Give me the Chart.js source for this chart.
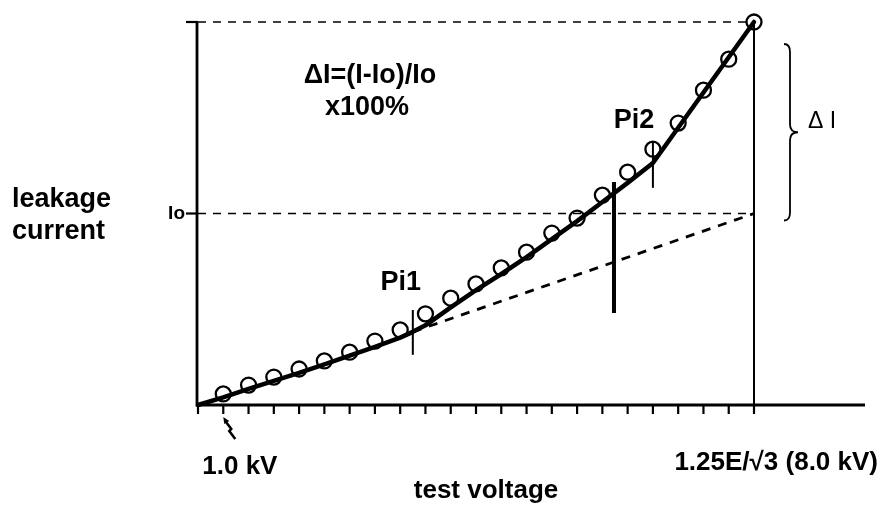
<!DOCTYPE html>
<html>
<head>
<meta charset="utf-8">
<script src="https://cdn.jsdelivr.net/npm/chart.js@4.4.0/dist/chart.umd.min.js"></script>
<style>
  html, body { margin: 0; background: #fff; }
  canvas { display: block; }
</style>
</head>
<body>
<canvas id="leakChart" width="883" height="506"></canvas>
<script>
// voltage steps on the x axis (1.0 kV at step 1, 8.0 kV at step 22)
const stepTicks = [0, 1, 2, 3, 4, 5, 6, 7, 8, 9, 10, 11, 12, 13, 14, 15, 16, 17, 18, 19, 20, 21, 22];

// measured leakage current (relative, I = 100)
const measuredSteps = [1, 2, 3, 4, 5, 6, 7, 8, 9, 10, 11, 12, 13, 14, 15, 16, 17, 18, 19, 20, 21, 22];
const measuredCurrent = [2.9, 5.2, 7.3, 9.4, 11.5, 13.8, 16.7, 19.6, 23.8, 27.9, 31.6, 35.8, 39.9, 44.9, 48.8, 54.8, 60.8, 66.8, 73.6, 82.2, 90.3, 100];

// fitted curve with the two inflection points Pi1 and Pi2
const fitSteps = [0, 1, 2, 3, 4, 5, 6, 7, 8, 8.5, 9, 10, 11, 12, 13, 14, 15, 16, 17, 18, 22];
const fitCurrent = [0, 2.0, 4.2, 6.3, 8.4, 10.6, 12.9, 15.2, 17.6, 19.1, 20.8, 25.5, 30.0, 34.2, 38.6, 43.3, 48.0, 53.0, 58.0, 63.2, 100];

// extrapolated trend after Pi1
const trendSteps = [8.5, 22];
const trendCurrent = [19.1, 50];

const levelI = 100;
const levelIo = 50;

// vertical markers: [step, from, to]
const pi1Mark = [8.5, 13.1, 24.8];
const splitMark = [16.46, 24.0, 58.2];
const pi2Mark = [18, 56.7, 68.9];

const FONT = '"Liberation Sans", Arial, sans-serif';

function pts(xs, ys) {
    return xs.map((x, i) => ({ x: x, y: ys[i] }));
}

function vline(m) {
    return [{ x: m[0], y: m[1] }, { x: m[0], y: m[2] }];
}

const lineStyle = { pointRadius: 0, fill: false, tension: 0, clip: false, borderColor: '#000' };

const datasets = [
    Object.assign({ data: [{ x: 0, y: levelI }, { x: 22, y: levelI }], borderWidth: 1.6, borderDash: [8, 7] }, lineStyle),
    Object.assign({ data: [{ x: 0, y: levelIo }, { x: 22, y: levelIo }], borderWidth: 1.6, borderDash: [8, 7] }, lineStyle),
    Object.assign({ data: pts(trendSteps, trendCurrent), borderWidth: 2.8, borderDash: [9, 8] }, lineStyle),
    Object.assign({ data: [{ x: 22, y: 0 }, { x: 22, y: levelI }], borderWidth: 2 }, lineStyle),
    Object.assign({ data: vline(pi1Mark), borderWidth: 2 }, lineStyle),
    Object.assign({ data: vline(splitMark), borderWidth: 4 }, lineStyle),
    Object.assign({ data: vline(pi2Mark), borderWidth: 2 }, lineStyle),
    Object.assign({ data: pts(fitSteps, fitCurrent), borderWidth: 4.5, borderCapStyle: 'round', borderJoinStyle: 'round' }, lineStyle),
    {
        data: pts(measuredSteps, measuredCurrent),
        showLine: false,
        pointRadius: 7.5,
        pointBorderWidth: 2.3,
        pointBorderColor: '#000',
        pointBackgroundColor: 'rgba(0,0,0,0)',
        clip: false
    }
];

// axes, ticks, brace and the texts
const sketchPlugin = {
    id: 'sketch',
    beforeDatasetsDraw(chart) {
        const c = chart.ctx;
        const xs = chart.scales.x, ys = chart.scales.y;
        const x0 = xs.getPixelForValue(0), y0 = ys.getPixelForValue(0);
        c.save();
        c.strokeStyle = '#000';
        c.lineWidth = 2.8;
        c.beginPath();
        c.moveTo(x0 - 1, ys.getPixelForValue(levelI));
        c.lineTo(x0 - 1, y0);
        c.lineTo(865, y0);
        c.stroke();
        c.lineWidth = 2.2;
        stepTicks.forEach(t => {
            const px = xs.getPixelForValue(t);
            c.beginPath();
            c.moveTo(px, y0);
            c.lineTo(px, y0 + 9);
            c.stroke();
        });
        // small ticks for I and Io
        [levelI, levelIo].forEach(v => {
            const py = ys.getPixelForValue(v);
            c.beginPath();
            c.moveTo(x0 - 12, py);
            c.lineTo(x0, py);
            c.stroke();
        });
        c.restore();
    },
    afterDraw(chart) {
        const c = chart.ctx;
        const xs = chart.scales.x, ys = chart.scales.y;
        const y0 = ys.getPixelForValue(0);
        c.save();
        c.fillStyle = '#000';
        c.strokeStyle = '#000';
        c.textBaseline = 'middle';

        c.font = 'bold 27px ' + FONT;
        c.textAlign = 'center';
        c.fillText('ΔI=(I-Io)/Io', 370, 76);
        c.fillText('x100%', 367, 108);
        c.fillText('Pi1', xs.getPixelForValue(pi1Mark[0]) - 12, 283);
        c.fillText('Pi2', xs.getPixelForValue(pi2Mark[0]) - 19, 121);

        c.textAlign = 'left';
        c.fillText('leakage', 12, 200);
        c.fillText('current', 12, 232);

        c.font = 'bold 26px ' + FONT;
        c.fillText('1.0 kV', xs.getPixelForValue(1) - 21, 467);
        c.textAlign = 'right';
        c.fillText('1.25E/√3 (8.0 kV)', 878, 463);
        c.textAlign = 'center';
        c.fillText('test voltage', 486, 491);

        c.font = 'bold 19px ' + FONT;
        c.textAlign = 'right';
        c.fillText('Io', xs.getPixelForValue(0) - 13, ys.getPixelForValue(levelIo));

        c.font = '23px ' + FONT;
        c.textAlign = 'left';
        c.fillText('Δ I', 808, 122);

        // brace spanning I .. Io
        const top = ys.getPixelForValue(levelI) + 22;
        const bot = ys.getPixelForValue(levelIo) + 7;
        const mid = (top + bot) / 2;
        const bx = 790;
        c.lineWidth = 1.8;
        c.beginPath();
        c.moveTo(bx - 6, top);
        c.quadraticCurveTo(bx, top, bx, top + 8);
        c.lineTo(bx, mid - 8);
        c.quadraticCurveTo(bx, mid, bx + 8, mid);
        c.quadraticCurveTo(bx, mid, bx, mid + 8);
        c.lineTo(bx, bot - 8);
        c.quadraticCurveTo(bx, bot, bx - 6, bot);
        c.stroke();

        // little arrow pointing at the 1.0 kV step
        const ax = xs.getPixelForValue(1);
        c.lineWidth = 2.5;
        c.beginPath();
        c.moveTo(ax + 12, y0 + 34);
        c.lineTo(ax + 6, y0 + 26);
        c.lineTo(ax + 8, y0 + 24);
        c.lineTo(ax + 2, y0 + 16);
        c.stroke();
        c.beginPath();
        c.moveTo(ax, y0 + 12);
        c.lineTo(ax + 6, y0 + 16);
        c.lineTo(ax + 1, y0 + 19);
        c.closePath();
        c.fill();
        c.restore();
    }
};

new Chart(document.getElementById('leakChart'), {
    type: 'line',
    data: { datasets: datasets },
    options: {
        responsive: false,
        animation: false,
        events: [],
        layout: { padding: { left: 198, right: 129, top: 22, bottom: 101 } },
        plugins: { legend: { display: false }, tooltip: { enabled: false } },
        scales: {
            x: { type: 'linear', min: 0, max: 22, display: false },
            y: { type: 'linear', min: 0, max: 100, display: false }
        }
    },
    plugins: [sketchPlugin]
});
</script>
</body>
</html>
